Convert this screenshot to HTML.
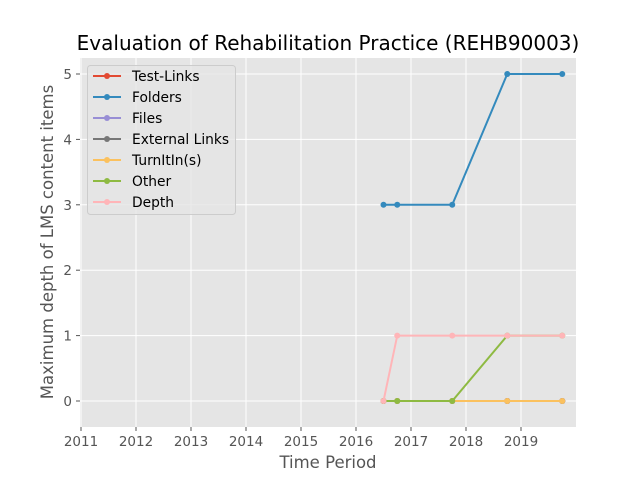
<!DOCTYPE html>
<html><head><meta charset="utf-8"><style>
body{margin:0;background:#fff}
svg{display:block;font-family:"DejaVu Sans","Liberation Sans",sans-serif}
</style></head><body>
<svg id="chart" width="640" height="480">
<rect x="80" y="58" width="496" height="369" fill="#e5e5e5"/>
<g id="grid"></g><g id="ticks"></g><g id="series"></g>
<text x="328" y="50" text-anchor="middle" font-size="20" fill="#000">Evaluation of Rehabilitation Practice (REHB90003)</text>
<text x="328" y="468" text-anchor="middle" font-size="16.5" fill="#555">Time Period</text>
<text transform="translate(53,242) rotate(-90)" text-anchor="middle" font-size="16.5" fill="#555">Maximum depth of LMS content items</text>
<g id="legend"></g>
</svg>
<script>
const periods=[2016.5,2016.75,2017.75,2018.75,2019.75];
const seriesNames=["Test-Links","Folders","Files","External Links","TurnItIn(s)","Other","Depth"];
const seriesColors=["#E24A33","#348ABD","#988ED5","#777777","#FBC15E","#8EBA42","#FFB5B8"];
const testLinks=[0,0,0,0,0];
const folders=[3,3,3,5,5];
const files=[0,0,0,0,0];
const externalLinks=[0,0,0,0,0];
const turnItIn=[0,0,0,0,0];
const other=[0,0,0,1,1];
const depth=[0,1,1,1,1];
const xTicks=[2011,2012,2013,2014,2015,2016,2017,2018,2019];
const yTicks=[0,1,2,3,4,5];
const allSeries=[testLinks,folders,files,externalLinks,turnItIn,other,depth];
const NS="http://www.w3.org/2000/svg";
const X=v=>81+(v-2011)*55;
const Y=v=>401-v*65.4;
function mk(t,a,p){const e=document.createElementNS(NS,t);for(const k in a)e.setAttribute(k,a[k]);p.appendChild(e);return e;}
const grid=document.getElementById('grid'),ticks=document.getElementById('ticks'),ser=document.getElementById('series'),leg=document.getElementById('legend');
xTicks.forEach(t=>{
 const l=mk('line',{x1:X(t),x2:X(t),y1:58,y2:427,stroke:'#fff','stroke-width':1},grid);
 
 
 mk('line',{x1:X(t),x2:X(t),y1:427,y2:431,stroke:'#555'},ticks);
 const tx=mk('text',{x:X(t),y:446,'text-anchor':'middle','font-size':13.5,fill:'#555'},ticks);
 tx.textContent=t;
 
 
});
yTicks.forEach(t=>{
 const l=mk('line',{x1:80,x2:576,y1:Y(t),y2:Y(t),stroke:'#fff','stroke-width':1},grid);
 
 
 mk('line',{x1:76,x2:80,y1:Y(t),y2:Y(t),stroke:'#555'},ticks);
 const tx=mk('text',{x:72,y:Y(t)+5,'text-anchor':'end','font-size':13.5,fill:'#555'},ticks);
 tx.textContent=t;
 
 
});
allSeries.forEach((s,i)=>{
 const g=mk('g',{},ser);
 
 
 mk('polyline',{points:s.map((v,j)=>X(periods[j])+','+Y(v)).join(' '),fill:'none',stroke:seriesColors[i],'stroke-width':2},g);
 s.forEach((v,j)=>{const c=mk('circle',{cx:X(periods[j]),cy:Y(v),r:3,fill:seriesColors[i]},g);
  
  });
});
mk('rect',{x:87.5,y:65.5,width:148,height:149,rx:3,fill:'#e5e5e5',stroke:'#ccc','fill-opacity':0.8},leg);
seriesNames.forEach((n,i)=>{
 const y=76+i*21;
 const g=mk('g',{},leg);
 
 
 mk('line',{x1:93,x2:121,y1:y,y2:y,stroke:seriesColors[i],'stroke-width':2},g);
 mk('circle',{cx:107,cy:y,r:3,fill:seriesColors[i]},g);
 const t=mk('text',{x:132,y:y+5,'font-size':13.8,fill:'#000'},g);t.textContent=n;
});
</script>
</body></html>
